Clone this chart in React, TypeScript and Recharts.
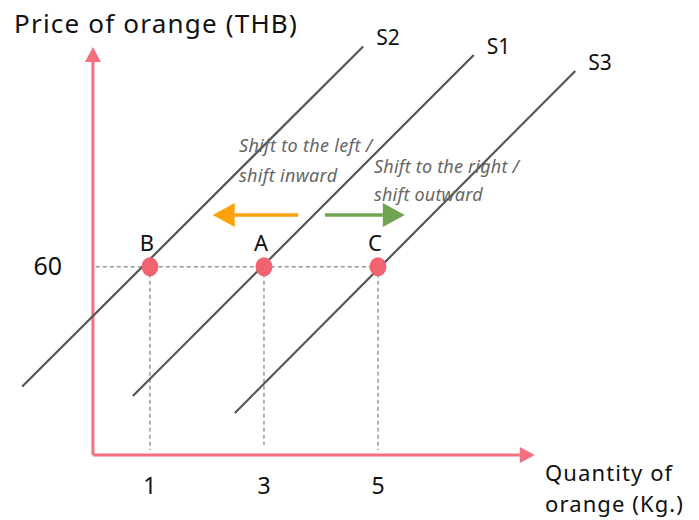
import React from "react";
import { ComposedChart, Line, Scatter, XAxis, YAxis, ReferenceLine, ReferenceDot } from "recharts";

const FONT = "'Noto Sans', 'DejaVu Sans', sans-serif";

// market points: quantity (Kg.) and price (THB)
const points = [
  { name: "B", q: 1, p: 60 },
  { name: "A", q: 3, p: 60 },
  { name: "C", q: 5, p: 60 },
];

// supply curves, two end points each
const supplyS2 = [
  { q: -1.24, p: 21.8 },
  { q: 4.74, p: 130.2 },
];
const supplyS1 = [
  { q: 0.7, p: 18.8 },
  { q: 6.68, p: 127.5 },
];
const supplyS3 = [
  { q: 2.49, p: 13.4 },
  { q: 8.46, p: 122.4 },
];

const xTicks = [1, 3, 5];
const yTicks = [60];

// shift arrows, from -> to
const shiftLeft = [
  { q: 3.6, p: 76.5 },
  { q: 2.1, p: 76.5 },
];
const shiftRight = [
  { q: 4.07, p: 76.5 },
  { q: 5.47, p: 76.5 },
];

// axis arrow tips
const yAxisTip = { q: 0, p: 130 };
const xAxisTip = { q: 7.75, p: 0 };

const AXIS = "#F4707C";
const DOT = "#F0636F";
const CURVE = "#555555";
const GUIDE = "#9a9a9a";

const arrowShape = (head: number, half: number) => (props: any) => {
  const { x1, y1, x2, y2, stroke, strokeWidth } = props;
  const len = Math.hypot(x2 - x1, y2 - y1) || 1;
  const ux = (x2 - x1) / len;
  const uy = (y2 - y1) / len;
  const bx = x2 - ux * head;
  const by = y2 - uy * head;
  return (
    <g>
      <line x1={x1} y1={y1} x2={bx} y2={by} stroke={stroke} strokeWidth={strokeWidth} />
      <polygon
        points={`${x2},${y2} ${bx - uy * half},${by + ux * half} ${bx + uy * half},${by - ux * half}`}
        fill={stroke}
      />
    </g>
  );
};

const textAt = (lines: string[], opts: any) => (props: any) => (
  <text
    x={props.cx + (opts.dx || 0)}
    y={props.cy + (opts.dy || 0)}
    fontFamily={FONT}
    fontSize={opts.size}
    fontStyle={opts.italic ? "italic" : "normal"}
    letterSpacing={opts.spacing || 0}
    fill={opts.color || "#111"}
    textAnchor={opts.anchor || "start"}
  >
    {lines.map((t, i) => (
      <tspan key={i} x={props.cx + (opts.dx || 0)} dy={i === 0 ? 0 : opts.lineHeight}>
        {t}
      </tspan>
    ))}
  </text>
);

const PointShape = (props: any) => {
  const { cx, cy, payload } = props;
  return (
    <g>
      <ellipse cx={cx} cy={cy} rx={8.5} ry={9.5} fill={DOT} />
      <text x={cx - 3} y={cy - 16} textAnchor="middle" fontFamily={FONT} fontSize={22} fill="#111">
        {payload.name}
      </text>
    </g>
  );
};

export default function App() {
  const curves = [
    { name: "S2", data: supplyS2 },
    { name: "S1", data: supplyS1 },
    { name: "S3", data: supplyS3 },
  ];
  return (
    <div style={{ position: "absolute", left: 0, top: 0, width: 699, height: 520, background: "#fff" }}>
      <ComposedChart width={699} height={520} margin={{ top: 0, right: 0, bottom: 0, left: 0 }}>
        <XAxis
          type="number"
          dataKey="q"
          domain={[-1.63, 10.63]}
          ticks={xTicks}
          height={65}
          axisLine={false}
          tickLine={false}
          tickSize={0}
          tickMargin={0}
          tick={(props: any) => (
            <text x={props.x} y={props.y} dy={39} textAnchor="middle" fontFamily={FONT} fontSize={23} fill="#111">
              {props.payload.value}
            </text>
          )}
        />
        <YAxis
          type="number"
          dataKey="p"
          domain={[0, 145]}
          ticks={yTicks}
          mirror
          axisLine={false}
          tickLine={false}
          tickSize={0}
          tickMargin={0}
          tick={(props: any) => (
            <text x={62} y={props.y} dy={8} textAnchor="end" fontFamily={FONT} fontSize={25} fill="#111">
              {props.payload.value}
            </text>
          )}
        />

        {/* dashed guides */}
        <ReferenceLine
          segment={[{ x: 0.05, y: 60 }, { x: 5, y: 60 }]}
          stroke={GUIDE}
          strokeWidth={1.5}
          strokeDasharray="4 3"
          ifOverflow="visible"
        />
        {points.map((pt) => (
          <ReferenceLine
            key={pt.name}
            segment={[{ x: pt.q, y: pt.p }, { x: pt.q, y: pt.name === "A" ? 3.2 : 1.6 }]}
            stroke={GUIDE}
            strokeWidth={1.5}
            strokeDasharray="4 3"
            ifOverflow="visible"
          />
        ))}

        {/* axes */}
        <ReferenceLine
          segment={[{ x: 0, y: 0 }, { x: yAxisTip.q, y: yAxisTip.p }]}
          stroke={AXIS}
          strokeWidth={3}
          ifOverflow="visible"
          shape={arrowShape(15, 8)}
        />
        <ReferenceLine
          segment={[{ x: 0, y: 0 }, { x: xAxisTip.q, y: xAxisTip.p }]}
          stroke={AXIS}
          strokeWidth={3}
          ifOverflow="visible"
          shape={arrowShape(15, 8)}
        />

        {curves.map((c) => (
          <Line
            key={c.name}
            data={c.data}
            dataKey="p"
            type="linear"
            stroke={CURVE}
            strokeWidth={2.2}
            dot={false}
            activeDot={false}
            isAnimationActive={false}
          />
        ))}
        {curves.map((c) => (
          <ReferenceDot
            key={c.name + "-label"}
            x={c.data[1].q}
            y={c.data[1].p}
            ifOverflow="visible"
            shape={textAt([c.name], { dx: 13, dy: -1, size: 21 })}
          />
        ))}

        {/* shift arrows */}
        <ReferenceLine
          segment={[{ x: shiftLeft[0].q, y: shiftLeft[0].p }, { x: shiftLeft[1].q, y: shiftLeft[1].p }]}
          stroke="#FFA10A"
          strokeWidth={3.5}
          ifOverflow="visible"
          shape={arrowShape(22, 12)}
        />
        <ReferenceLine
          segment={[{ x: shiftRight[0].q, y: shiftRight[0].p }, { x: shiftRight[1].q, y: shiftRight[1].p }]}
          stroke="#6FA552"
          strokeWidth={3.5}
          ifOverflow="visible"
          shape={arrowShape(22, 12)}
        />

        <Scatter data={points} dataKey="p" isAnimationActive={false} shape={PointShape} />

        {/* text notes */}
        <ReferenceDot
          x={-1.384}
          y={134.5}
          ifOverflow="visible"
          shape={textAt(["Price of orange (THB)"], { size: 26, spacing: 1.2 })}
        />
        <ReferenceDot
          x={2.562}
          y={96.6}
          ifOverflow="visible"
          shape={textAt(["Shift to the left /", "shift inward"], {
            size: 18,
            italic: true,
            color: "#666",
            lineHeight: 30,
            spacing: 0.3,
          })}
        />
        <ReferenceDot
          x={4.93}
          y={89.9}
          ifOverflow="visible"
          shape={textAt(["Shift to the right /", "shift outward"], {
            size: 18,
            italic: true,
            color: "#666",
            lineHeight: 28,
            spacing: 0.2,
          })}
        />
        <ReferenceDot
          x={7.93}
          y={-8.3}
          ifOverflow="visible"
          shape={textAt(["Quantity of", "orange (Kg.)"], { size: 22, lineHeight: 31, spacing: 1.1 })}
        />
      </ComposedChart>
    </div>
  );
}
